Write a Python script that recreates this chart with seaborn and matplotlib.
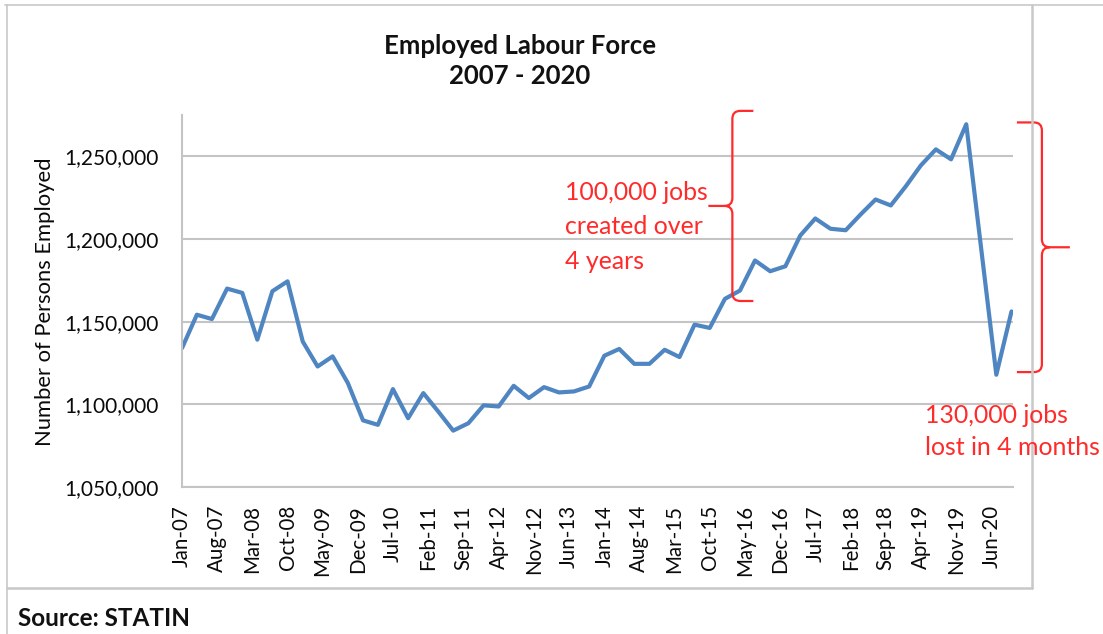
import numpy as np
import pandas as pd
import matplotlib
matplotlib.use('Agg')
import matplotlib.pyplot as plt
from matplotlib.path import Path
from matplotlib.patches import PathPatch
from matplotlib.lines import Line2D
from matplotlib.transforms import IdentityTransform
import seaborn as sns

# quarterly survey dates (no April 2020 survey)
quarters = [
    '2007-01', '2007-04', '2007-07', '2007-10',
    '2008-01', '2008-04', '2008-07', '2008-10',
    '2009-01', '2009-04', '2009-07', '2009-10',
    '2010-01', '2010-04', '2010-07', '2010-10',
    '2011-01', '2011-04', '2011-07', '2011-10',
    '2012-01', '2012-04', '2012-07', '2012-10',
    '2013-01', '2013-04', '2013-07', '2013-10',
    '2014-01', '2014-04', '2014-07', '2014-10',
    '2015-01', '2015-04', '2015-07', '2015-10',
    '2016-01', '2016-04', '2016-07', '2016-10',
    '2017-01', '2017-04', '2017-07', '2017-10',
    '2018-01', '2018-04', '2018-07', '2018-10',
    '2019-01', '2019-04', '2019-07', '2019-10',
    '2020-01', '2020-07', '2020-10',
]
employed = [
    1134000, 1154200, 1151600, 1170000,
    1167400, 1139100, 1168400, 1174400,
    1138000, 1122900, 1129000, 1112900,
    1090300, 1087600, 1109200, 1091600,
    1106800, 1095700, 1084100, 1088600,
    1099400, 1098700, 1111200, 1103800,
    1110400, 1107200, 1107800, 1110800,
    1129400, 1133500, 1124500, 1124500,
    1133000, 1128600, 1148200, 1146200,
    1163800, 1168800, 1187000, 1180500,
    1183500, 1202100, 1212400, 1206200,
    1205300, 1214800, 1223900, 1220300,
    1232000, 1244500, 1254200, 1248200,
    1269400, 1117900, 1156200,
]

tick_labels = ['Jan-07', 'Aug-07', 'Mar-08', 'Oct-08', 'May-09', 'Dec-09',
               'Jul-10', 'Feb-11', 'Sep-11', 'Apr-12', 'Nov-12', 'Jun-13',
               'Jan-14', 'Aug-14', 'Mar-15', 'Oct-15', 'May-16', 'Dec-16',
               'Jul-17', 'Feb-18', 'Sep-18', 'Apr-19', 'Nov-19', 'Jun-20']
y_ticks = [1050000, 1100000, 1150000, 1200000, 1250000]

# annotation braces: (x date, low value, high value)
brace_created = ('2016-02-15', 1162500, 1277500)
brace_lost = ('2021-04-03', 1119500, 1270500)

df = pd.DataFrame({'date': pd.to_datetime(quarters), 'employed': employed})

sns.set_style('white')
plt.rcParams['font.family'] = ['Lato', 'DejaVu Sans']

W, H = 1103, 634
fig = plt.figure(figsize=(W / 100, H / 100), dpi=100)
ax = fig.add_axes([182 / W, 1 - 487 / H, (1013 - 182) / W, (487 - 115) / H])

sns.lineplot(data=df, x='date', y='employed', ax=ax, color='#4f86c2', linewidth=3.0)

ax.set_ylim(1050000, 1275000)
ax.set_xlim(pd.Timestamp('2007-01-01'), pd.Timestamp('2020-10-10'))
ax.set_yticks(y_ticks)
ax.set_yticklabels([f'{v:,}' for v in y_ticks], fontsize=15, color='#0a0a0a')
tick_pos = pd.to_datetime(tick_labels, format='%b-%y')
ax.set_xticks(tick_pos)
ax.set_xticklabels(tick_labels, rotation=90, fontsize=14.8, color='#0a0a0a')
ax.set_xlabel('')
ax.set_ylabel('')

grey = '#c4c4c4'
ax.grid(axis='y', color=grey, linewidth=1.5)
ax.grid(axis='x', visible=False)
for s in ['top', 'right']:
    ax.spines[s].set_visible(False)
for s in ['left', 'bottom']:
    ax.spines[s].set_color(grey)
    ax.spines[s].set_linewidth(1.5)
ax.tick_params(axis='y', direction='inout', length=9, width=1.2, color=grey, pad=12)
ax.tick_params(axis='x', direction='out', length=5, width=1.2, color=grey, pad=8)

# titles and labels
fig.text(520 / W, 1 - 61 / H, 'Employed Labour Force\n2007 - 2020', ha='center', va='center',
         fontsize=18.5, fontweight='bold', color='#111111', linespacing=1.3)
fig.text(45 / W, 1 - 302 / H, 'Number of Persons Employed', rotation=90, ha='center',
         va='center', fontsize=15.8, color='#0a0a0a')
fig.text(18 / W, 1 - 618 / H, 'Source: STATIN', ha='left', va='center',
         fontsize=17.5, fontweight='bold', color='#111111')

red = '#ff2a2a'
fig.text(565 / W, 1 - 181 / H, '100,000 jobs\ncreated over\n4 years', ha='left', va='top',
         fontsize=17.9, color=red, linespacing=1.6)
fig.text(925 / W, 1 - 404 / H, '130,000 jobs\nlost in 4 months', ha='left', va='top',
         fontsize=17.9, color=red, linespacing=1.45)


def brace(xdate, v0, v1, ends, nub, r=8):
    # curly brace in display pixels; ends>0 means the arms point right
    xv, yb = ax.transData.transform((matplotlib.dates.date2num(pd.Timestamp(xdate)), v0))
    _, yt = ax.transData.transform((0, v1))
    ym = (yt + yb) / 2
    sr = np.sign(ends)
    sn = np.sign(nub)
    verts = [(xv + ends, yt), (xv + sr * r, yt), (xv, yt), (xv, yt - r), (xv, ym + r),
             (xv, ym), (xv + sn * r, ym), (xv + nub, ym),
             (xv + sn * r, ym), (xv, ym), (xv, ym - r), (xv, yb + r),
             (xv, yb), (xv + sr * r, yb), (xv + ends, yb)]
    codes = [Path.MOVETO, Path.LINETO, Path.CURVE3, Path.CURVE3, Path.LINETO,
             Path.CURVE3, Path.CURVE3, Path.LINETO,
             Path.MOVETO, Path.CURVE3, Path.CURVE3, Path.LINETO,
             Path.CURVE3, Path.CURVE3, Path.LINETO]
    patch = PathPatch(Path(verts, codes), facecolor='none', edgecolor=red, linewidth=1.6,
                      transform=IdentityTransform(), clip_on=False)
    fig.add_artist(patch)


brace(brace_created[0], brace_created[1], brace_created[2], ends=21, nub=-24)
brace(brace_lost[0], brace_lost[1], brace_lost[2], ends=-25, nub=28)

# chart frame
frame = '#c8c8c8'
fig.add_artist(Line2D([5 / W, 1], [1 - 5 / H, 1 - 5 / H], color=frame, linewidth=1.2))
fig.add_artist(Line2D([7 / W, 7 / W], [1 - 5 / H, 0], color=frame, linewidth=1.2))
fig.add_artist(Line2D([1032 / W, 1032 / W], [1 - 5 / H, 1 - 588 / H], color=frame, linewidth=1.8))
fig.add_artist(Line2D([7 / W, 1032 / W], [1 - 588 / H, 1 - 588 / H], color=frame, linewidth=1.8))

fig.savefig('out.png', dpi=100)
